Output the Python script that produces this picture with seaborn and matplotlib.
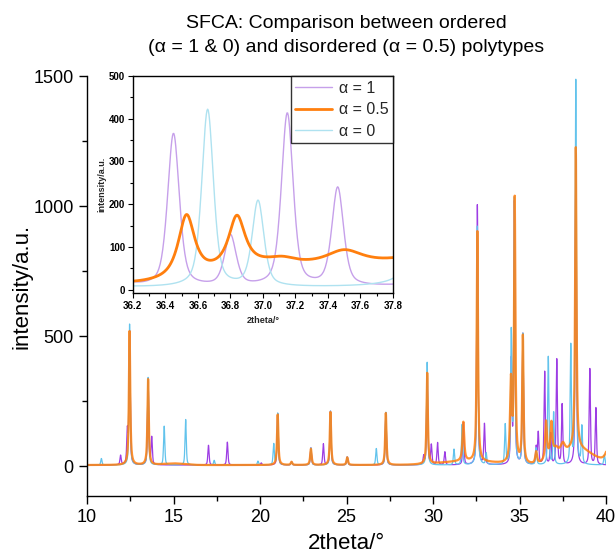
import matplotlib

matplotlib.use("Agg")
import matplotlib.pyplot as plt
import numpy as np
import pandas as pd
import seaborn as sns


# peak lists (2theta in degrees, intensity in a.u.)
ALPHA1_POS = [11.94, 12.33, 12.46, 13.53, 13.74, 17.02, 18.11, 20.07, 21.02, 21.82,
              22.94, 23.66, 24.07, 25.04, 27.27, 29.46, 29.66, 29.90, 30.26, 30.68,
              31.75, 32.56, 32.97, 34.52, 34.70, 35.19, 35.96, 36.08, 36.45, 36.80,
              37.15, 37.46, 38.25, 39.06, 39.41]
ALPHA1_HEIGHT = [36, 125, 510, 332, 104, 76, 88, 8, 198, 12,
                 66, 81, 207, 31, 202, 32, 352, 75, 85, 50,
                 162, 1000, 155, 390, 1005, 503, 66, 122, 358, 118,
                 405, 230, 1200, 368, 218]

ALPHA0_POS = [10.83, 12.46, 13.53, 14.46, 15.70, 17.35, 19.88, 20.79, 21.02, 21.82,
              22.94, 24.07, 25.04, 26.72, 27.27, 29.66, 31.21, 31.68, 32.56, 33.07,
              34.17, 34.52, 34.70, 35.19, 35.96, 36.66, 36.97, 37.96, 38.25, 38.60,
              39.90]
ALPHA0_HEIGHT = [25, 542, 337, 149, 175, 18, 15, 80, 199, 12,
                 66, 208, 31, 63, 203, 395, 60, 155, 918, 44,
                 152, 500, 1015, 503, 64, 415, 200, 452, 1480, 143,
                 38]

ALPHA05_POS = [12.46, 13.53, 21.02, 21.82, 22.94, 24.07, 25.04, 27.27, 29.66, 31.75,
               32.56, 34.50, 34.72, 35.19, 35.96, 36.53, 36.84, 37.12, 37.50, 38.25,
               40.20]
ALPHA05_HEIGHT = [515, 330, 194, 12, 62, 204, 29, 200, 350, 150,
                  885, 310, 1010, 490, 45, 145, 118, 12, 36, 1160,
                  80]
ALPHA05_HWHM = [0.045, 0.045, 0.045, 0.05, 0.05, 0.045, 0.05, 0.045, 0.045, 0.06,
                0.045, 0.06, 0.045, 0.045, 0.06, 0.06, 0.06, 0.10, 0.14, 0.045,
                0.2]
# diffuse scattering humps of the disordered polytype (centre, height, sigma)
DIFFUSE_POS = [15.0, 32.0, 36.95, 38.3]
DIFFUSE_HEIGHT = [6, 14, 28, 62]
DIFFUSE_SIGMA = [0.6, 1.5, 0.3, 0.9]

SHARP_HWHM = 0.0425
SHARP_ETA = 0.5
DIFFUSE_ETA = 0.85
BACKGROUND = 4

LABELS = ["\u03b1 = 1", "\u03b1 = 0.5", "\u03b1 = 0"]
TITLE = "SFCA: Comparison between ordered\n(\u03b1 = 1 & 0) and disordered (\u03b1 = 0.5) polytypes"


def pseudo_voigt_sum(x, positions, heights, hwhm, eta):
    y = np.full_like(x, BACKGROUND, dtype=float)
    for p, h, w in zip(positions, heights, hwhm):
        u = (x - p) / w
        y += h * (eta / (1 + u**2) + (1 - eta) * np.exp(-np.log(2) * u**2))
    return y


def build_patterns() -> pd.DataFrame:
    x = np.arange(10, 40.0001, 0.004)
    a1 = pseudo_voigt_sum(x, ALPHA1_POS, ALPHA1_HEIGHT, [SHARP_HWHM] * len(ALPHA1_POS), SHARP_ETA)
    a0 = pseudo_voigt_sum(x, ALPHA0_POS, ALPHA0_HEIGHT, [SHARP_HWHM] * len(ALPHA0_POS), SHARP_ETA)
    a05 = pseudo_voigt_sum(x, ALPHA05_POS, ALPHA05_HEIGHT, ALPHA05_HWHM, DIFFUSE_ETA)
    for p, h, s in zip(DIFFUSE_POS, DIFFUSE_HEIGHT, DIFFUSE_SIGMA):
        a05 += h * np.exp(-0.5 * ((x - p) / s) ** 2)
    return pd.DataFrame({"two_theta": x, "alpha_1": a1, "alpha_05": a05, "alpha_0": a0})


def main() -> None:
    sns.set_theme(style="ticks")
    plt.rcParams["font.family"] = ["Liberation Sans", "DejaVu Sans"]

    patterns = build_patterns()

    fig = plt.figure(figsize=(6.15, 5.54), dpi=100)
    ax = fig.add_axes([0.1415, 0.1047, 0.844, 0.7581])

    main_styles = [
        ("alpha_1", "#9d3de4", 0.9, 1.0),
        ("alpha_0", "#62c3ec", 0.9, 1.0),
        ("alpha_05", "#ff7f0e", 1.6, 0.85),
    ]
    for column, color, lw, alpha in main_styles:
        sns.lineplot(data=patterns, x="two_theta", y=column, ax=ax, color=color,
                     linewidth=lw, alpha=alpha, estimator=None, sort=False)

    ax.set_xlim(10, 40)
    ax.set_ylim(-115, 1500)
    ax.set_xticks([10, 15, 20, 25, 30, 35, 40])
    ax.set_xticks(np.arange(12.5, 40, 5), minor=True)
    ax.set_yticks([0, 500, 1000, 1500])
    ax.set_yticks([250, 750, 1250], minor=True)
    ax.tick_params(axis="both", which="major", labelsize=13, length=6, width=1,
                   direction="out", color="black", labelcolor="black")
    ax.tick_params(axis="both", which="minor", length=3.5, width=1, direction="out",
                   color="black")
    ax.set_xlabel("2theta/\u00b0", fontsize=16, labelpad=5, color="black")
    ax.set_ylabel("intensity/a.u.", fontsize=16, labelpad=1, color="black")
    ax.set_title(TITLE, fontsize=14, pad=17, color="black", linespacing=1.6)
    for side in ["left", "bottom"]:
        ax.spines[side].set_color("black")
        ax.spines[side].set_linewidth(1)
    sns.despine(ax=ax)

    # zoomed inset
    ins = fig.add_axes([0.216, 0.4711, 0.423, 0.3917])
    inset_styles = {
        "alpha_1": (LABELS[0], "#c6a0ea", 1.0),
        "alpha_05": (LABELS[1], "#ff7f0e", 2.0),
        "alpha_0": (LABELS[2], "#afe2f0", 1.0),
    }
    zoom = patterns[(patterns["two_theta"] >= 36.15) & (patterns["two_theta"] <= 37.85)]
    for column in ["alpha_1", "alpha_0", "alpha_05"]:
        label, color, lw = inset_styles[column]
        sns.lineplot(data=zoom, x="two_theta", y=column, ax=ins, color=color,
                     linewidth=lw, label=label, estimator=None, sort=False)
    ins.set_xlim(36.2, 37.8)
    ins.set_ylim(-8, 500)
    ins.set_xticks(np.round(np.arange(36.2, 37.81, 0.2), 1))
    ins.set_xticks(np.round(np.arange(36.3, 37.8, 0.2), 1), minor=True)
    ins.set_yticks([0, 100, 200, 300, 400, 500])
    ins.set_yticks([50, 150, 250, 350, 450], minor=True)
    ins.tick_params(axis="both", which="major", labelsize=7, length=3.5, width=0.8,
                    direction="out", color="black", labelcolor="black", pad=2)
    ins.tick_params(axis="both", which="minor", length=2, width=0.8, direction="out",
                    color="black")
    for lab in ins.get_xticklabels() + ins.get_yticklabels():
        lab.set_fontweight("bold")
    ins.set_xlabel("2theta/\u00b0", fontsize=6.5, fontweight="bold", labelpad=4)
    ins.set_ylabel("intensity/a.u.", fontsize=6.5, fontweight="bold", labelpad=2)
    for spine in ins.spines.values():
        spine.set_visible(True)
        spine.set_color("black")
        spine.set_linewidth(1)

    handles, labels = ins.get_legend_handles_labels()
    order = [labels.index(lbl) for lbl in LABELS]
    leg = ins.legend([handles[i] for i in order], [labels[i] for i in order],
                     loc="upper right", fontsize=11.5, frameon=True, fancybox=False,
                     borderaxespad=0, handlelength=2.3, borderpad=0.3,
                     labelspacing=0.4, handletextpad=0.4)
    leg.get_frame().set_edgecolor("black")
    leg.get_frame().set_linewidth(1)

    fig.savefig("out.png", dpi=100)
    plt.close(fig)


if __name__ == "__main__":
    main()
